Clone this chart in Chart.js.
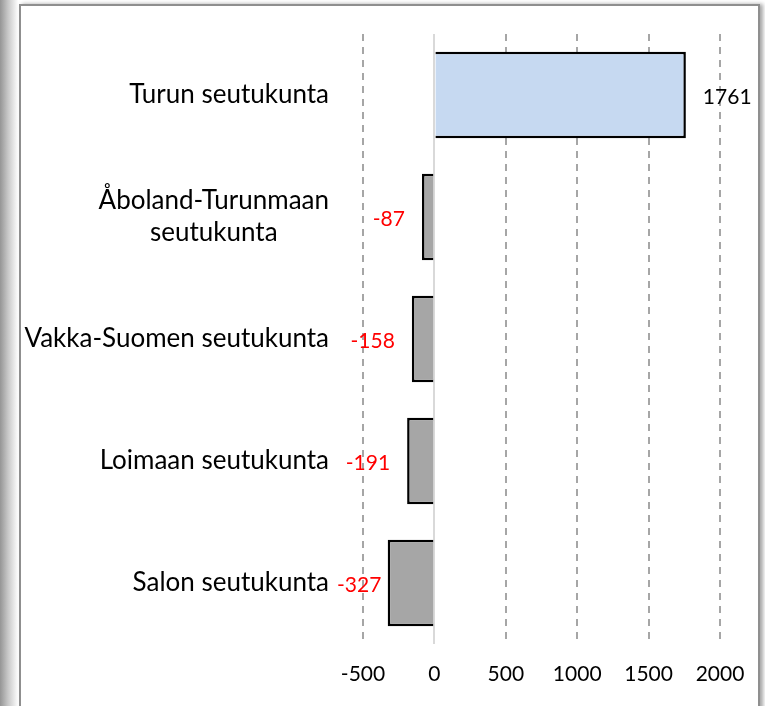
<!DOCTYPE html>
<html>
<head>
<meta charset="utf-8">
<script src="https://cdn.jsdelivr.net/npm/chart.js@4"></script>
<style>
  html, body { margin: 0; padding: 0; background: #fff; }
  body { width: 765px; height: 706px; position: relative; overflow: hidden; }
  #shadow { position: absolute; left: 0; top: 0; width: 18px; height: 706px;
            background: linear-gradient(to right, #959595, #c8c8c8 45%, #fdfdfd); }
  #frame { position: absolute; left: 19px; top: 4px; width: 737px; height: 720px;
           border: 2px solid #8f8f8f; box-shadow: 3px 0 4px rgba(0,0,0,0.35); background: #fff; }
  #wrap { position: absolute; left: 0; top: 0; width: 765px; height: 706px; }
</style>
</head>
<body>
<div id="shadow"></div>
<div id="frame"></div>
<div id="wrap"><canvas id="myChart" width="765" height="706"></canvas></div>
<script>
const categories = [
    'Turun seutukunta',
    ['Åboland-Turunmaan', 'seutukunta'],
    'Vakka-Suomen seutukunta',
    'Loimaan seutukunta',
    'Salon seutukunta'
];
const values = [1761, -87, -158, -191, -327];
const axisMin = -500;
const axisMax = 2000;
const axisStep = 500;

const FONT = 'Lato, "Open Sans", sans-serif';

// category labels drawn by hand so the two-line label stays centred on itself
const categoryLabels = {
    id: 'categoryLabels',
    afterDraw(chart) {
        const ctx = chart.ctx;
        const yScale = chart.scales.y;
        const right = chart.chartArea.left - 34;
        ctx.save();
        ctx.font = '26px ' + FONT;
        ctx.fillStyle = '#000';
        ctx.textBaseline = 'middle';
        categories.forEach((label, i) => {
            const y = yScale.getPixelForValue(i);
            const lines = Array.isArray(label) ? label : [label];
            const maxW = Math.max(...lines.map(l => ctx.measureText(l).width));
            const lineH = 32;
            const top = y - (lines.length - 1) * lineH / 2;
            ctx.textAlign = lines.length > 1 ? 'center' : 'right';
            const x = lines.length > 1 ? right - maxW / 2 : right;
            lines.forEach((l, j) => ctx.fillText(l, x, top + j * lineH));
        });
        ctx.restore();
    }
};

// value labels outside the bar ends
const valueLabels = {
    id: 'valueLabels',
    afterDatasetsDraw(chart) {
        const ctx = chart.ctx;
        const meta = chart.getDatasetMeta(0);
        ctx.save();
        ctx.font = '21px ' + FONT;
        ctx.textBaseline = 'middle';
        meta.data.forEach((bar, i) => {
            const v = values[i];
            const txt = String(v);
            if (v >= 0) {
                ctx.fillStyle = '#000';
                ctx.textAlign = 'left';
                ctx.fillText(txt, bar.x + 17, bar.y + 2);
            } else {
                ctx.fillStyle = '#ff0000';
                ctx.textAlign = 'right';
                const w = ctx.measureText(txt).width;
                const minRight = chart.chartArea.left - 26 + w;
                ctx.fillText(txt, Math.max(bar.x - 17, minRight), bar.y + 2);
            }
        });
        ctx.restore();
    }
};

const ctx = document.getElementById('myChart').getContext('2d');

const chart = new Chart(ctx, {
    type: 'bar',
    data: {
        labels: categories,
        datasets: [{
            data: values,
            backgroundColor: values.map(v => v >= 0 ? '#c6d9f1' : '#a6a6a6'),
            borderColor: '#000',
            borderWidth: 2.5,
            barPercentage: 0.71,
            categoryPercentage: 1
        }]
    },
    options: {
        indexAxis: 'y',
        responsive: false,
        animation: false,
        layout: { padding: { top: 34, right: 45, bottom: 0, left: 0 } },
        plugins: {
            legend: { display: false },
            tooltip: { enabled: false }
        },
        scales: {
            x: {
                min: axisMin,
                max: axisMax,
                afterFit: scale => { scale.height = 62; },
                ticks: {
                    stepSize: axisStep,
                    color: '#000',
                    font: { family: FONT, size: 21 },
                    padding: 18,
                    callback: v => String(v)
                },
                grid: {
                    drawTicks: false,
                    lineWidth: 2,
                    color: c => c.tick && c.tick.value === 0 ? '#d9d9d9' : '#a6a6a6'
                },
                border: {
                    display: false,
                    dash: c => c.tick && c.tick.value === 0 ? [] : [7, 6]
                }
            },
            y: {
                afterFit: scale => { scale.width = 363; },
                ticks: { display: false },
                grid: { display: false },
                border: { display: false }
            }
        }
    },
    plugins: [categoryLabels, valueLabels]
});
</script>
</body>
</html>
